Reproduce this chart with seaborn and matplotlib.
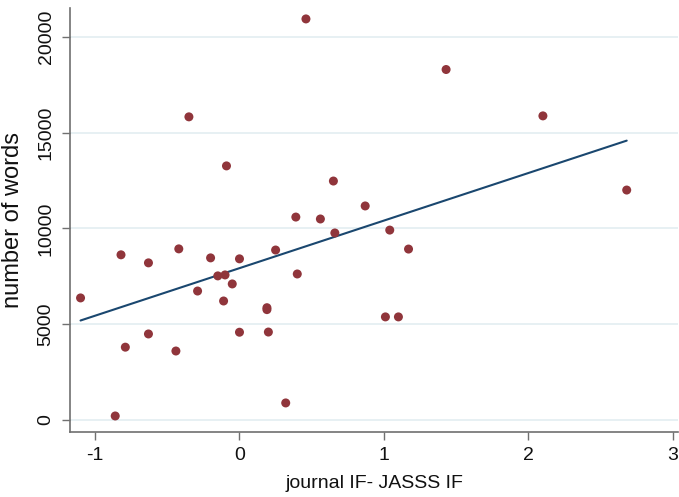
import seaborn as sns
import matplotlib.pyplot as plt
import pandas as pd

# journal IF minus JASSS IF, and number of words per paper
if_diff = [-1.10, -0.86, -0.82, -0.79, -0.63, -0.63, -0.44, -0.42, -0.35, -0.29,
           -0.20, -0.15, -0.10, -0.11, -0.09, -0.05, 0.00, 0.00, 0.19, 0.19,
           0.20, 0.25, 0.32, 0.40, 0.39, 0.46, 0.56, 0.65, 0.66, 0.87,
           1.01, 1.04, 1.10, 1.17, 1.43, 2.10, 2.68]
words = [6370, 210, 8620, 3800, 8200, 4490, 3600, 8930, 15820, 6730,
         8460, 7520, 7570, 6210, 13260, 7100, 8410, 4580, 5860, 5760,
         4590, 8870, 890, 7620, 10590, 20930, 10490, 12470, 9760, 11170,
         5380, 9910, 5380, 8920, 18290, 15870, 12000]

df = pd.DataFrame({"if_diff": if_diff, "words": words})

sns.set_style("white")
plt.rcParams['font.family'] = ['Liberation Sans', 'DejaVu Sans']
plt.rcParams['axes.unicode_minus'] = False

fig = plt.figure(figsize=(6.79, 4.97), dpi=100)
ax = fig.add_axes([70/679, 1 - 431.7/497, 608/679, (431.7 - 8)/497])

for v in [0, 5000, 10000, 15000, 20000]:
    ax.axhline(v, color="#e3eef1", lw=1.2, zorder=0)

sns.regplot(data=df, x="if_diff", y="words", ci=None, ax=ax,
            scatter_kws=dict(color="#90353b", s=42, edgecolor="none", alpha=1, zorder=3),
            line_kws=dict(color="#1a476f", lw=1.5, zorder=2))

ax.set_xlim(-1.173, 3.035)
ax.set_ylim(-611, 21500)
ax.set_xticks([-1, 0, 1, 2, 3])
ax.set_yticks([0, 5000, 10000, 15000, 20000])
ax.set_yticklabels(["0", "5000", "10000", "15000", "20000"], rotation=90, va="center")

sns.despine(ax=ax)
for side in ["left", "bottom"]:
    ax.spines[side].set_color("#707070")
    ax.spines[side].set_linewidth(1.2)
ax.tick_params(axis="both", direction="out", length=6, width=1, color="#707070",
               labelsize=14, labelcolor="#111111", bottom=True, left=True)
ax.tick_params(axis="x", pad=5)
ax.tick_params(axis="y", pad=5)

ax.set_xlabel("journal IF- JASSS IF", fontsize=14, color="#111111", labelpad=8)
ax.set_ylabel("number of words", fontsize=17, color="#111111", labelpad=10)

fig.savefig("out.png", dpi=100)
